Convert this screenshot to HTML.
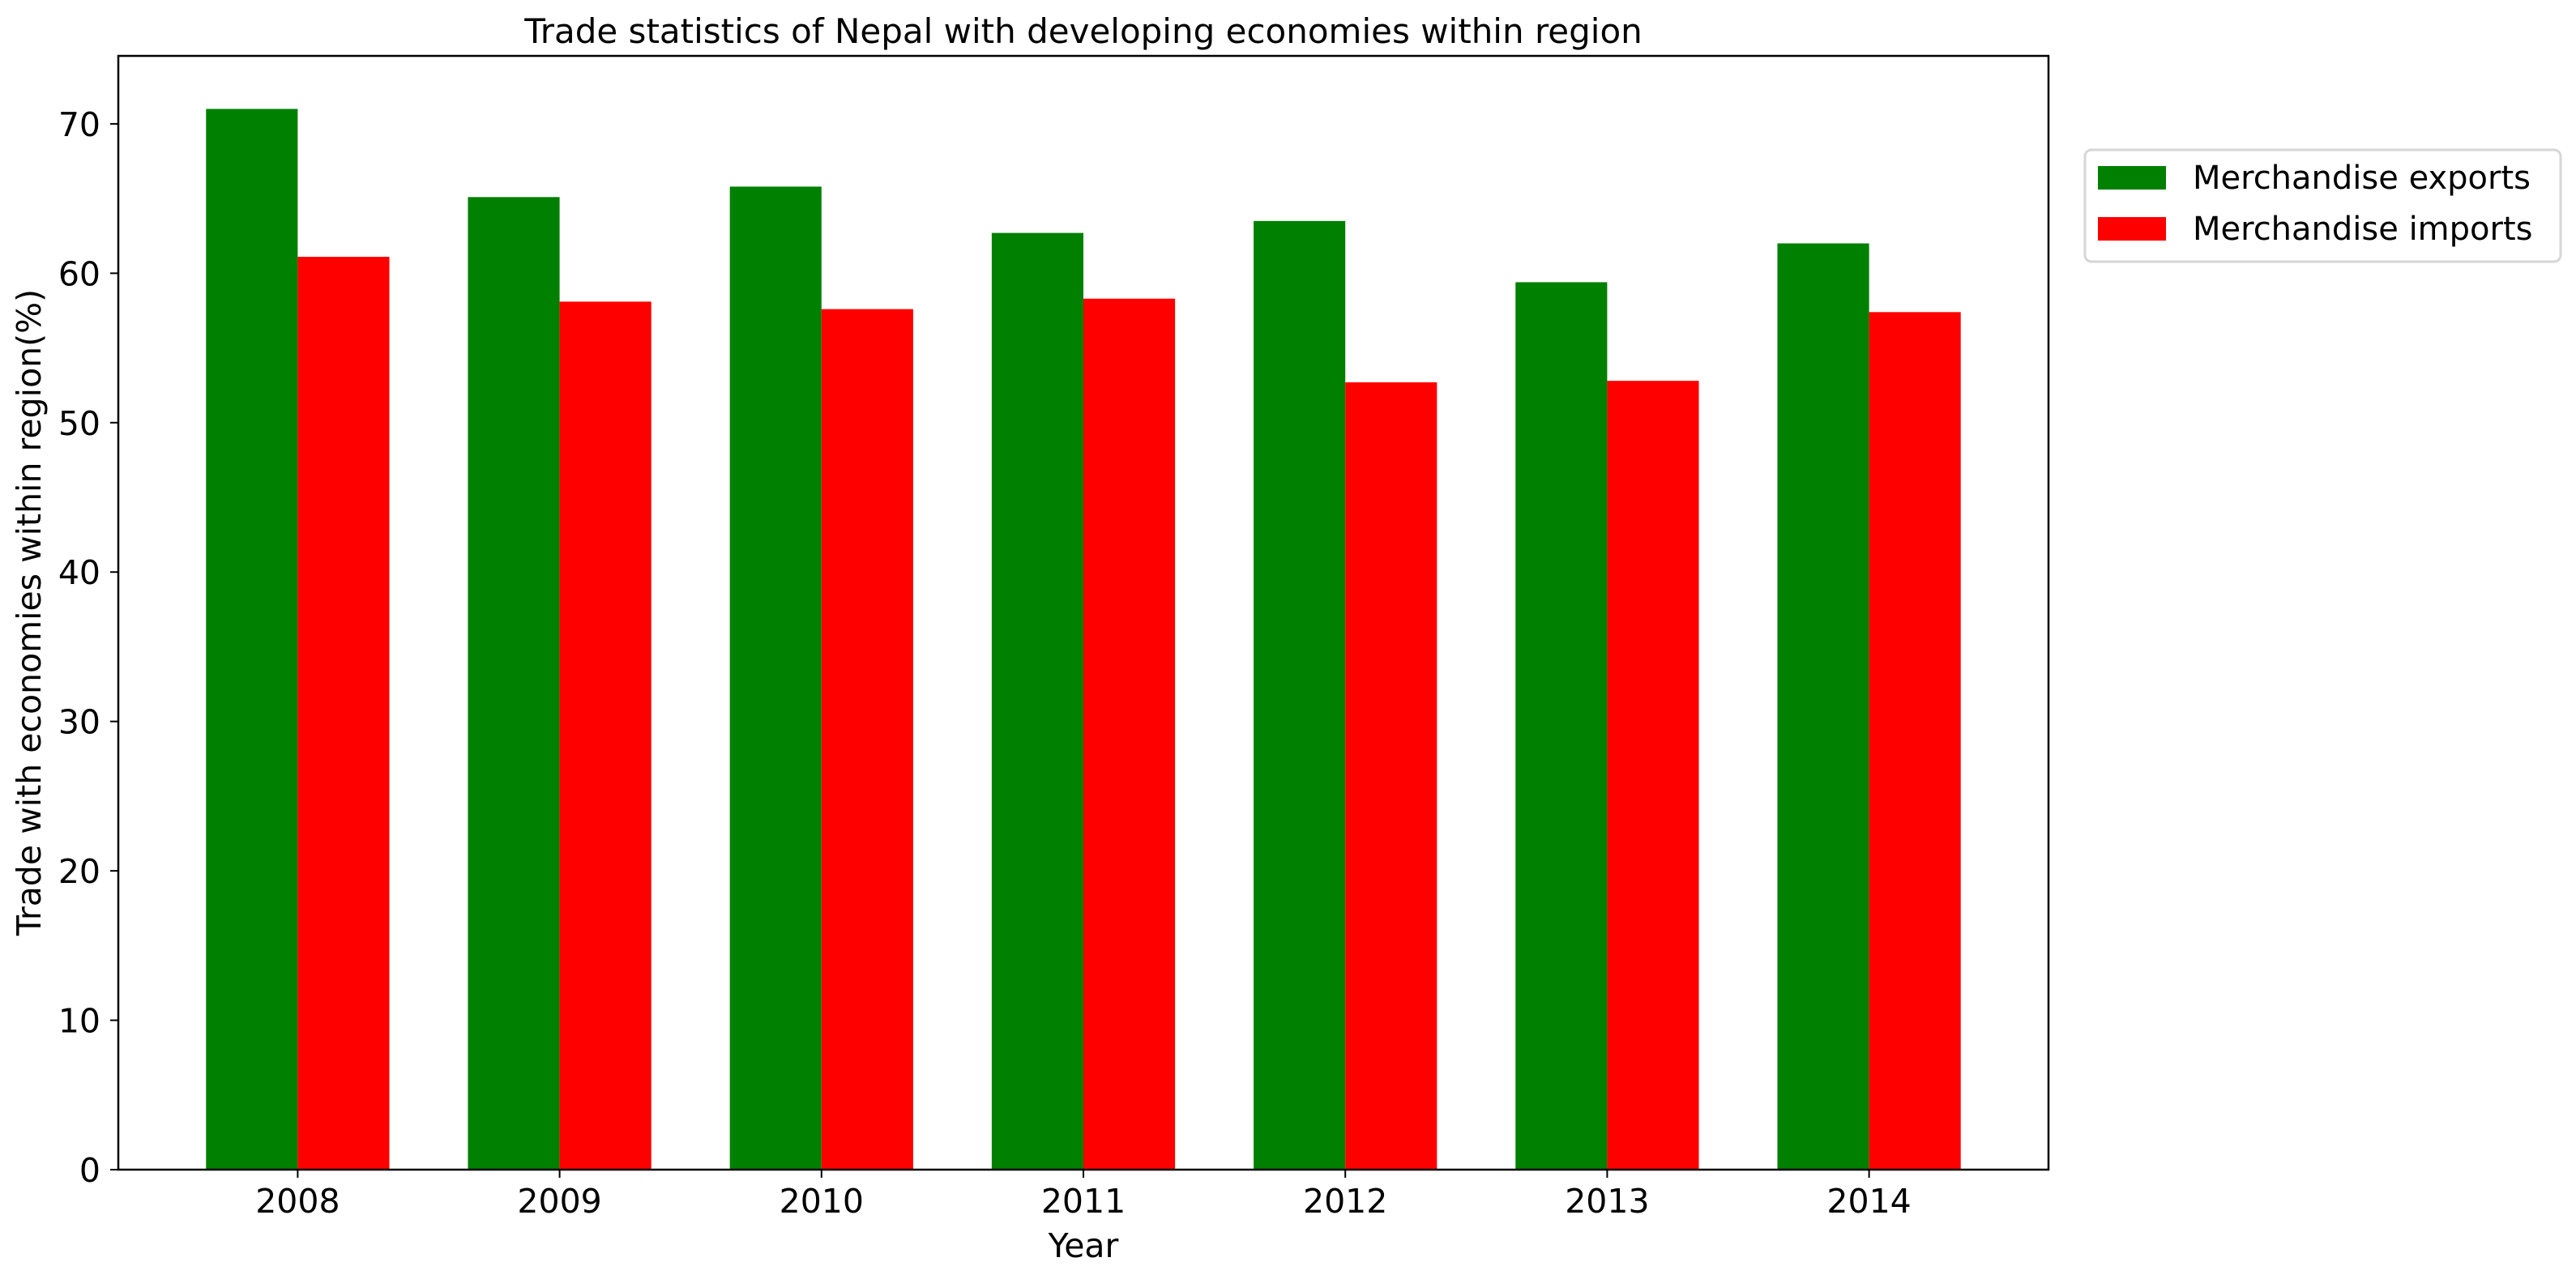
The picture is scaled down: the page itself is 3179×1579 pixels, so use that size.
<!DOCTYPE html>
<html><head><meta charset="utf-8"><style>
html,body{margin:0;padding:0;background:#fff;}
svg{display:block;font-family:"DejaVu Sans","Liberation Sans",sans-serif;}
</style></head><body>
<svg id="chart" width="3179" height="1579" viewBox="0 0 3179 1579" xmlns="http://www.w3.org/2000/svg">
<rect x="0" y="0" width="3179" height="1579" fill="#fff"/>
<text x="1337" y="53" font-size="42" text-anchor="middle">Trade statistics of Nepal with developing economies within region</text>
<g id="bars"></g>
<g id="axes"></g>
<text x="1337" y="1552" font-size="41" text-anchor="middle">Year</text>
<text x="0" y="0" font-size="41" text-anchor="middle" transform="translate(50,756) rotate(-90)">Trade with economies within region(%)</text>
<g>
<rect x="2573" y="185" width="587" height="138" rx="8" fill="#fff" stroke="#d6d6d6" stroke-width="3"/>
<rect x="2589" y="205" width="84" height="29" fill="#008000"/>
<text x="2706" y="233" font-size="40">Merchandise exports</text>
<rect x="2589" y="268" width="84" height="29" fill="#ff0000"/>
<text x="2706" y="296" font-size="40">Merchandise imports</text>
</g>
</svg>
<script>
const categories = ["2008","2009","2010","2011","2012","2013","2014"];
const exportsValues = [71.0, 65.1, 65.8, 62.7, 63.5, 59.4, 62.0];
const importsValues = [61.1, 58.1, 57.6, 58.3, 52.7, 52.8, 57.4];
const yTicks = [0,10,20,30,40,50,60,70];

const NS="http://www.w3.org/2000/svg";
const L=146,R=2528,T=69,B=1444;
const allVals = exportsValues.concat(importsValues);
const yMax = Math.max(...allVals)*1.05;
const xMin=-0.35-0.05*(categories.length-1+0.7), xMax=categories.length-1+0.35+0.05*(categories.length-1+0.7);
function xs(v){return L+(v-xMin)/(xMax-xMin)*(R-L);}
function ys(v){return B-v/yMax*(B-T);}
const bw=0.35;
const bars=document.getElementById('bars');
const axes=document.getElementById('axes');
function mk(tag,attrs,parent){const e=document.createElementNS(NS,tag);for(const k in attrs)e.setAttribute(k,attrs[k]);parent.appendChild(e);return e;}
categories.forEach((c,i)=>{
  const x0=xs(i-bw), x1=xs(i), x2=xs(i+bw);
  const g=mk('rect',{x:x0,y:ys(exportsValues[i]),width:x1-x0,height:B-ys(exportsValues[i]),fill:'#008000'},bars);
  
  
  const r=mk('rect',{x:x1,y:ys(importsValues[i]),width:x2-x1,height:B-ys(importsValues[i]),fill:'#ff0000'},bars);
  
  
  const t=mk('line',{x1:x1,x2:x1,y1:B,y2:B+10,stroke:'#000','stroke-width':2},axes);
  
  
  const lb=mk('text',{x:x1,y:1497,'font-size':41,'text-anchor':'middle'},axes);
  lb.textContent=c;
  
  
});
yTicks.forEach(v=>{
  const y=ys(v);
  const t=mk('line',{x1:L-10,x2:L,y1:y,y2:y,stroke:'#000','stroke-width':2},axes);
  
  
  const lb=mk('text',{x:124,y:y+15,'font-size':41,'text-anchor':'end'},axes);
  lb.textContent=v;
  
  
});
const fr=mk('rect',{x:L,y:T,width:R-L,height:B-T,fill:'none',stroke:'#000','stroke-width':2.5},axes);


</script>
</body></html>
